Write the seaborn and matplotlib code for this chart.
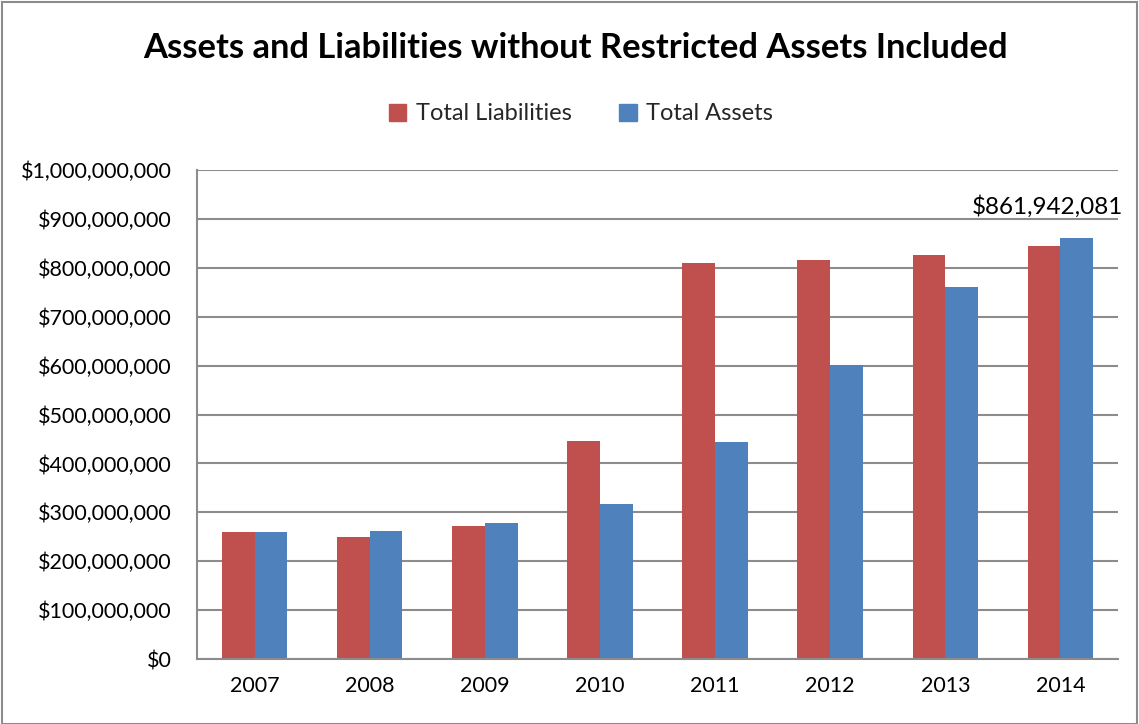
import pandas as pd
import numpy as np
import seaborn as sns
import matplotlib.pyplot as plt
from matplotlib.ticker import FuncFormatter, MultipleLocator
from matplotlib.patches import Rectangle

years = ["2007", "2008", "2009", "2010", "2011", "2012", "2013", "2014"]
liabilities = [260e6, 250e6, 273e6, 446e6, 809e6, 816e6, 827e6, 845e6]
assets = [259e6, 262e6, 278e6, 316e6, 444e6, 602e6, 761e6, 861942081]
series_names = ["Total Liabilities", "Total Assets"]
colors = ["#C0504D", "#4F81BD"]

df = pd.DataFrame({
    "year": years * 2,
    "value": liabilities + assets,
    "series": [series_names[0]] * len(years) + [series_names[1]] * len(years),
})

sns.set_style("white")
plt.rcParams["font.family"] = ["Lato", "DejaVu Sans"]

fig = plt.figure(figsize=(11.39, 7.24), dpi=100)
ax = fig.add_axes([197 / 1139, 1 - 659 / 724, 921 / 1139, 489 / 724])

sns.barplot(data=df, x="year", y="value", hue="series", palette=colors,
            width=0.57, ax=ax, saturation=1, legend=False, edgecolor="none")

ax.set_ylim(0, 1e9)
ax.yaxis.set_major_locator(MultipleLocator(1e8))
ax.yaxis.set_major_formatter(FuncFormatter(lambda v, p: "${:,.0f}".format(v)))
ax.grid(axis="y", color="#8c8c8c", linewidth=1.5)
ax.set_axisbelow(True)
ax.set_xlabel("")
ax.set_ylabel("")
ax.tick_params(axis="both", labelsize=15.5, length=0, colors="black")
ax.tick_params(axis="y", pad=18)
ax.tick_params(axis="x", pad=12)
for s in ["top", "right"]:
    ax.spines[s].set_visible(False)
for s in ["left", "bottom"]:
    ax.spines[s].set_color("#8c8c8c")
    ax.spines[s].set_linewidth(1.5)

# label on last assets bar
ax.annotate("${:,.0f}".format(assets[-1]), xy=(len(years) - 1 + 0.1425, assets[-1]),
            xytext=(-21, 14), textcoords="offset points", ha="center", va="bottom",
            fontsize=17.5, color="black")

fig.text(0.505, 1 - 48 / 724, "Assets and Liabilities without Restricted Assets Included",
         ha="center", va="center", fontsize=24.8, fontweight="bold", color="black")

handles = [Rectangle((0, 0), 1, 1, color=c) for c in colors]
fig.legend(handles, series_names, loc="center", bbox_to_anchor=(0.51, 1 - 114 / 724),
           ncol=2, frameon=False, fontsize=17, handlelength=0.75, handleheight=0.75,
           columnspacing=2.0, handletextpad=0.4)

fig.patches.append(Rectangle((2 / 1139, 0), 1 - 4 / 1139, 1 - 2 / 724, transform=fig.transFigure,
                             fill=False, edgecolor="#8c8c8c", linewidth=1.5))

fig.savefig("out.png", dpi=100)
